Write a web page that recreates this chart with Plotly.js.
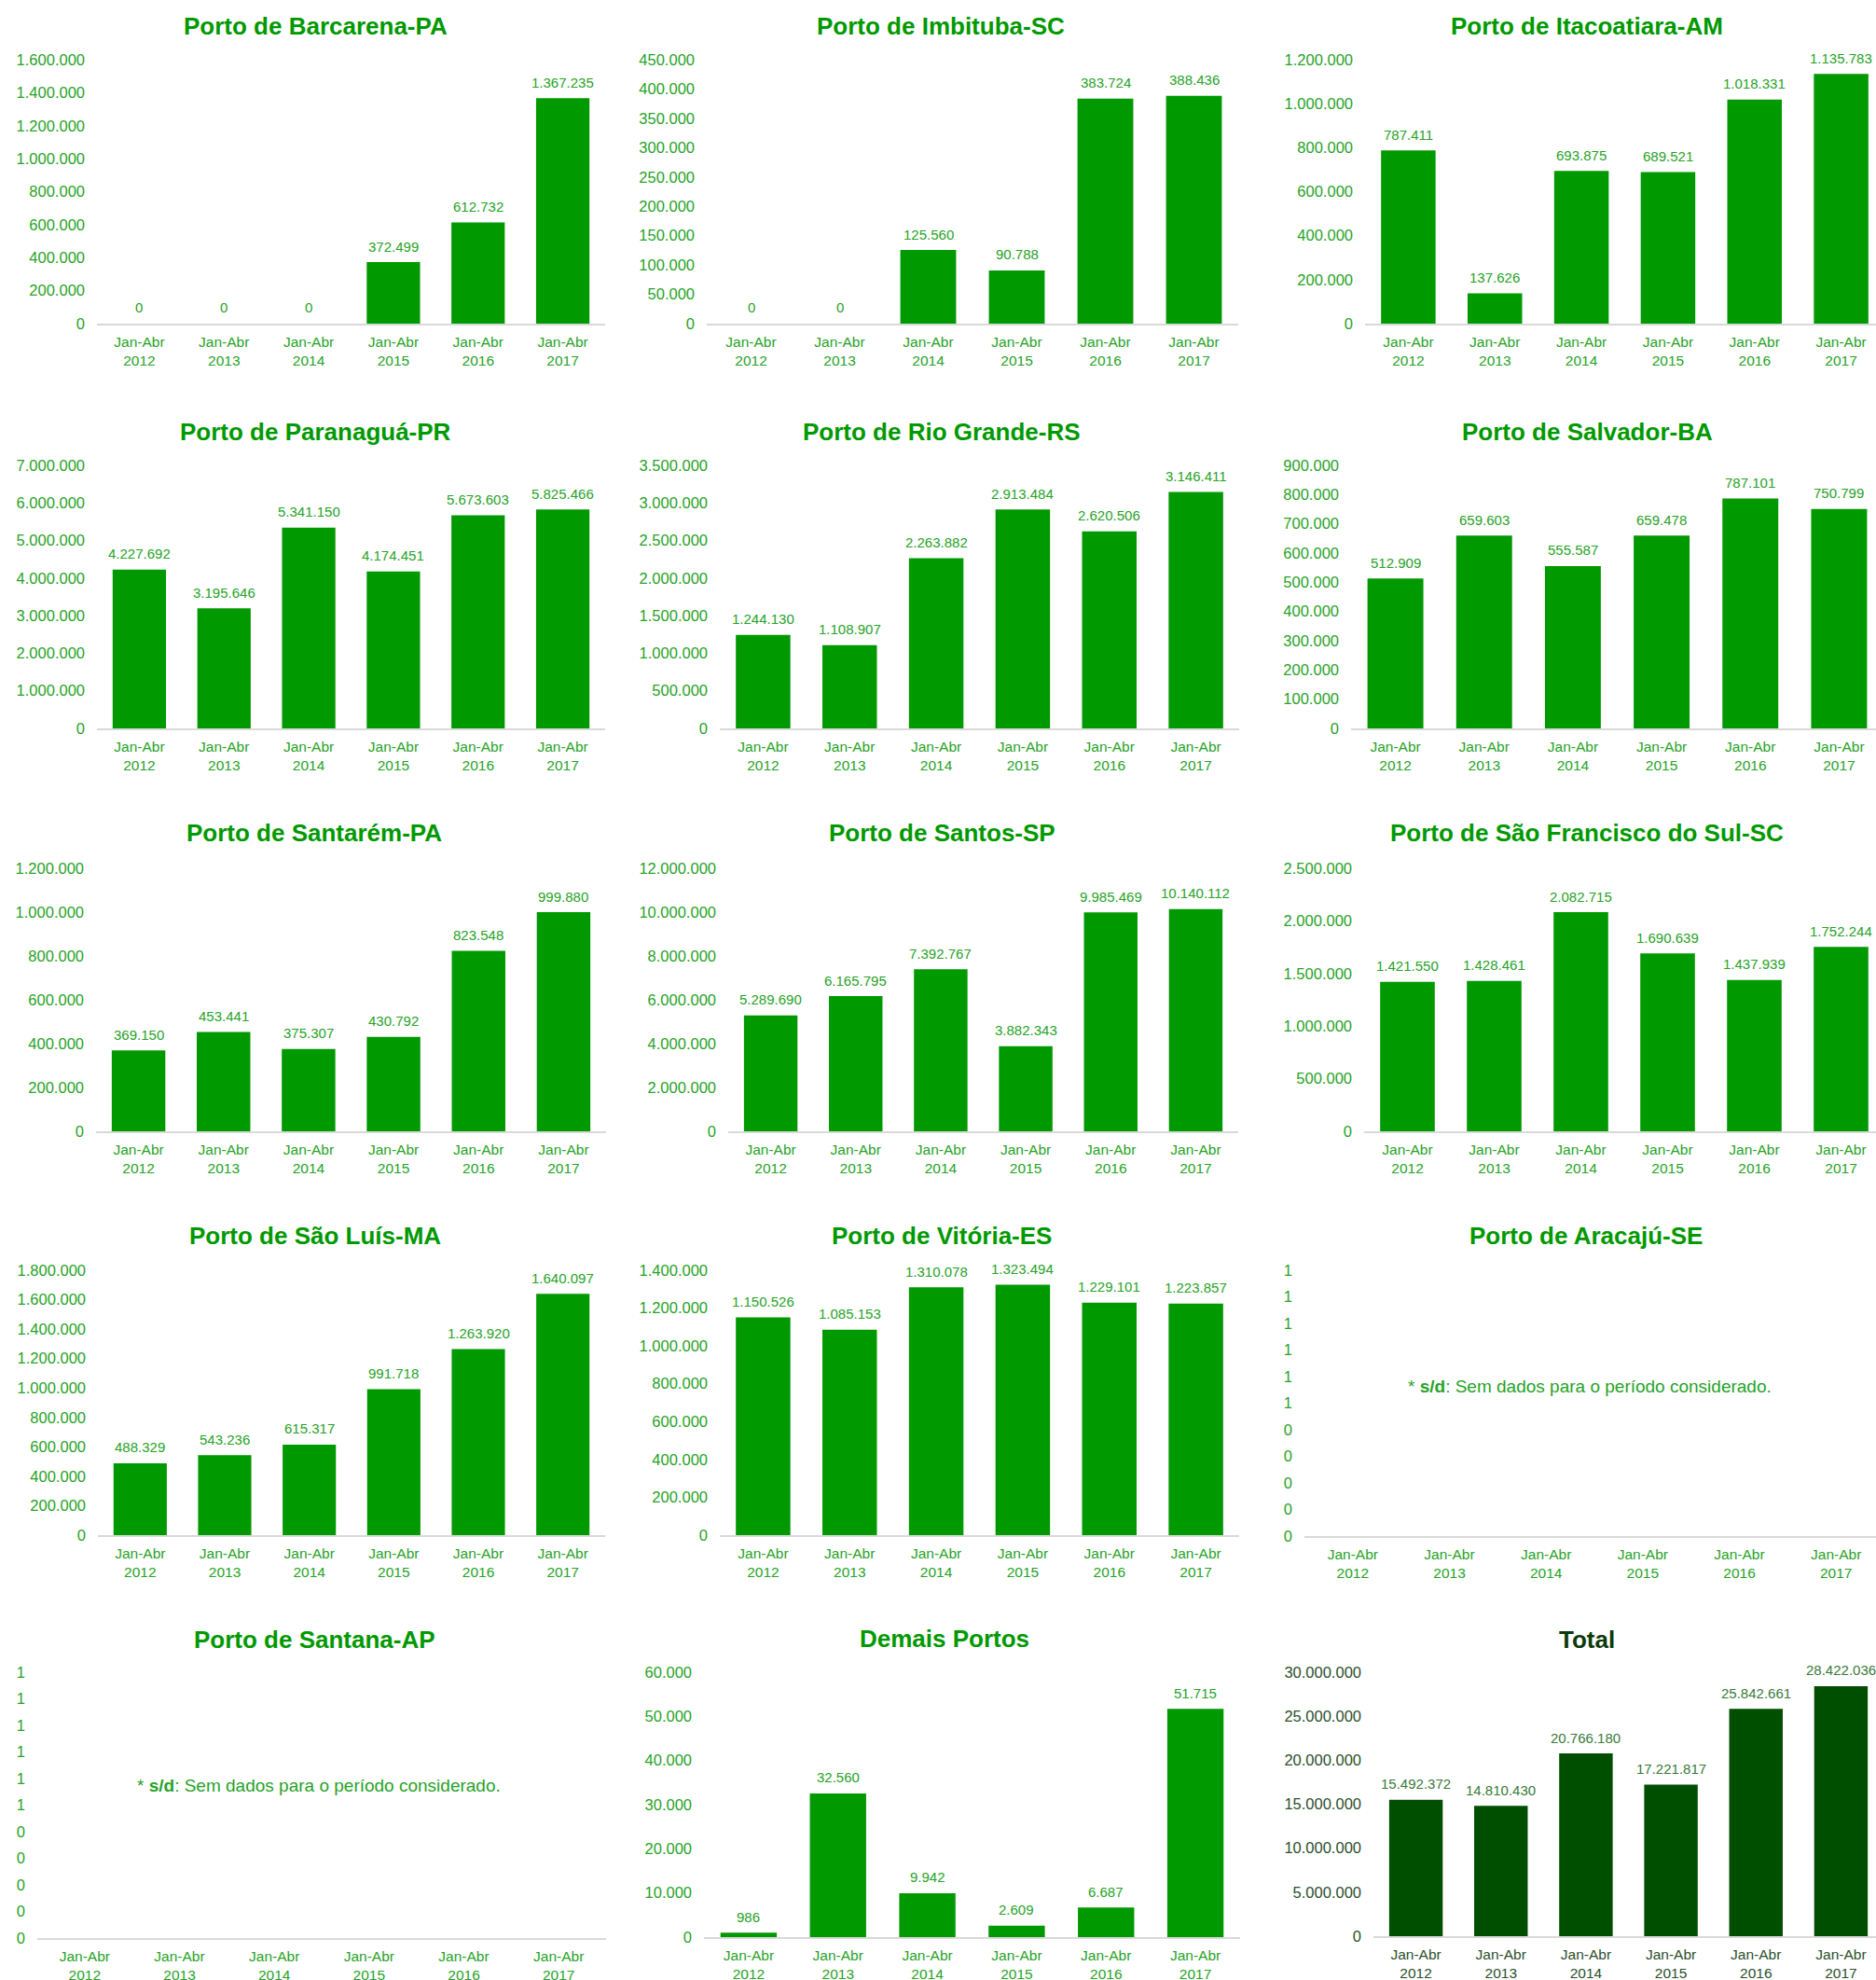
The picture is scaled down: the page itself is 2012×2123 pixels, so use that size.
<!DOCTYPE html>
<html><head><meta charset="utf-8">
<script src="https://cdn.plot.ly/plotly-3.0.1.min.js"></script>
<style>html,body{margin:0;padding:0;overflow:hidden;background:#fff}#chart{width:2024px;height:2123px}</style>
</head><body><div id="chart"></div>
<script>
// ---------- DATA ----------
const years = ['2012', '2013', '2014', '2015', '2016', '2017'];
const periodLabel = 'Jan-Abr';
const titles = [
  'Porto de Barcarena-PA', 'Porto de Imbituba-SC', 'Porto de Itacoatiara-AM',
  'Porto de Paranaguá-PR', 'Porto de Rio Grande-RS', 'Porto de Salvador-BA',
  'Porto de Santarém-PA', 'Porto de Santos-SP', 'Porto de São Francisco do Sul-SC',
  'Porto de São Luís-MA', 'Porto de Vitória-ES', 'Porto de Aracajú-SE',
  'Porto de Santana-AP', 'Demais Portos', 'Total'
];
const barcarena    = [0, 0, 0, 372499, 612732, 1367235];
const imbituba     = [0, 0, 125560, 90788, 383724, 388436];
const itacoatiara  = [787411, 137626, 693875, 689521, 1018331, 1135783];
const paranagua    = [4227692, 3195646, 5341150, 4174451, 5673603, 5825466];
const rioGrande    = [1244130, 1108907, 2263882, 2913484, 2620506, 3146411];
const salvador     = [512909, 659603, 555587, 659478, 787101, 750799];
const santarem     = [369150, 453441, 375307, 430792, 823548, 999880];
const santos       = [5289690, 6165795, 7392767, 3882343, 9985469, 10140112];
const saoFrancisco = [1421550, 1428461, 2082715, 1690639, 1437939, 1752244];
const saoLuis      = [488329, 543236, 615317, 991718, 1263920, 1640097];
const vitoria      = [1150526, 1085153, 1310078, 1323494, 1229101, 1223857];
const aracaju      = [null, null, null, null, null, null];
const santana      = [null, null, null, null, null, null];
const demais       = [986, 32560, 9942, 2609, 6687, 51715];
const total        = [15492372, 14810430, 20766180, 17221817, 25842661, 28422036];

const axisMax  = [1600000, 450000, 1200000, 7000000, 3500000, 900000, 1200000, 12000000, 2500000, 1800000, 1400000, 1, 1, 60000, 30000000];
const axisStep = [200000, 50000, 200000, 1000000, 500000, 100000, 200000, 2000000, 500000, 200000, 200000, 0.1, 0.1, 10000, 5000000];
const noDataTickText = ['0', '0', '0', '0', '0', '1', '1', '1', '1', '1', '1'];
const noDataNote = '* <b>s/d</b>: Sem dados para o período considerado.';

const series = [barcarena, imbituba, itacoatiara, paranagua, rioGrande, salvador,
  santarem, santos, saoFrancisco, saoLuis, vitoria, aracaju, santana, demais, total];

// ---------- GEOMETRY / STYLE ----------
const W = 2024, H = 2123;
// [x0, x1, yTop, yZero] in pixels
const boxes = [
  [104, 649, 64, 347], [758, 1328, 64, 347], [1464, 2021, 64, 347],
  [104, 649, 499, 781], [772, 1329, 499, 781], [1449, 2020, 499, 781],
  [103, 650, 931, 1213], [781, 1328, 931, 1213], [1463, 2021, 931, 1213],
  [105, 649, 1362, 1646], [772, 1329, 1362, 1646], [1399, 2021, 1362, 1647],
  [40, 650, 1793, 2078], [755, 1330, 1793, 2077], [1473, 2020, 1793, 2076]
];
const titlePos = [
  [338, 28], [1009, 28], [1702, 28],
  [338, 463], [1010, 463], [1702, 463],
  [337, 893], [1010, 893], [1702, 893],
  [338, 1325], [1010, 1325], [1701, 1325],
  [337, 1758], [1013, 1757], [1702, 1758]
];
const notePos = {11: [1705, 1486], 12: [342, 1914]};

const FONT = 'Liberation Sans, Arial, Helvetica, sans-serif';
const GREEN_BAR = '#009900', GREEN_TITLE = '#009900', GREEN_TXT = '#27a327';
const TOT_BAR = '#004f00', TOT_TITLE = '#0b3a0b', TOT_TICK = '#2c4f2c', TOT_LBL = '#3a7a3a';

function fmt(v) { return String(v).replace(/\B(?=(\d{3})+(?!\d))/g, '.'); }

const cats = years.map(y => periodLabel + '<br>' + y);
const traces = [];
const annotations = [];
const layout = {
  width: W, height: H, margin: {l: 0, r: 0, t: 0, b: 0},
  paper_bgcolor: '#ffffff', plot_bgcolor: '#ffffff',
  showlegend: false, bargap: 0.37, separators: ',.',
  font: {family: FONT}
};

series.forEach((vals, i) => {
  const n = i + 1;
  const xs = n === 1 ? 'x' : 'x' + n;
  const ys = n === 1 ? 'y' : 'y' + n;
  const isTotal = i === 14;
  const noData = vals.every(v => v === null);
  const b = boxes[i];
  const tickCol = isTotal ? TOT_TICK : GREEN_TXT;

  traces.push({
    type: 'bar', x: cats, y: vals, xaxis: xs, yaxis: ys,
    marker: {color: isTotal ? TOT_BAR : GREEN_BAR, line: {width: 0}},
    hoverinfo: 'skip'
  });

  const tv = [];
  for (let k = 0; k * axisStep[i] <= axisMax[i] * 1.0000001; k++) tv.push(Math.round(k * axisStep[i] * 1e6) / 1e6);

  layout[n === 1 ? 'xaxis' : 'xaxis' + n] = {
    domain: [b[0] / W, b[1] / W], anchor: ys, type: 'category',
    categoryorder: 'array', categoryarray: cats,
    range: [-0.5, 5.5], showline: true, linecolor: '#d9d9d9', linewidth: 2,
    showgrid: false, zeroline: false, ticks: '', fixedrange: true,
    tickfont: {family: FONT, size: 15.5, color: tickCol}, ticklabelstandoff: 4
  };
  const ya = {
    domain: [1 - b[3] / H, 1 - b[2] / H], anchor: xs,
    range: [0, axisMax[i]], tickvals: tv, showgrid: false, zeroline: false,
    showline: false, ticks: '', fixedrange: true,
    tickfont: {family: FONT, size: 16.5, color: tickCol}, ticklabelstandoff: 12
  };
  if (noData) ya.ticktext = noDataTickText; else ya.tickformat = ',d';
  layout[n === 1 ? 'yaxis' : 'yaxis' + n] = ya;

  // data labels
  vals.forEach((v, j) => {
    if (v === null) return;
    annotations.push({
      xref: xs, yref: ys, x: cats[j], y: v, text: fmt(v), showarrow: false,
      yanchor: 'middle', yshift: 17,
      font: {family: FONT, size: 15, color: isTotal ? TOT_LBL : GREEN_TXT}
    });
  });

  // panel title
  annotations.push({
    xref: 'paper', yref: 'paper', x: titlePos[i][0] / W, y: 1 - titlePos[i][1] / H,
    xanchor: 'center', yanchor: 'middle', text: titles[i], showarrow: false,
    font: {family: FONT, size: 26, weight: 'bold', color: isTotal ? TOT_TITLE : GREEN_TITLE}
  });

  if (noData) {
    annotations.push({
      xref: 'paper', yref: 'paper', x: notePos[i][0] / W, y: 1 - notePos[i][1] / H,
      xanchor: 'center', yanchor: 'middle', text: noDataNote, showarrow: false,
      font: {family: FONT, size: 19, color: GREEN_TXT}
    });
  }
});
layout.annotations = annotations;

Plotly.newPlot('chart', traces, layout, {displayModeBar: false, responsive: false});
</script></body></html>
